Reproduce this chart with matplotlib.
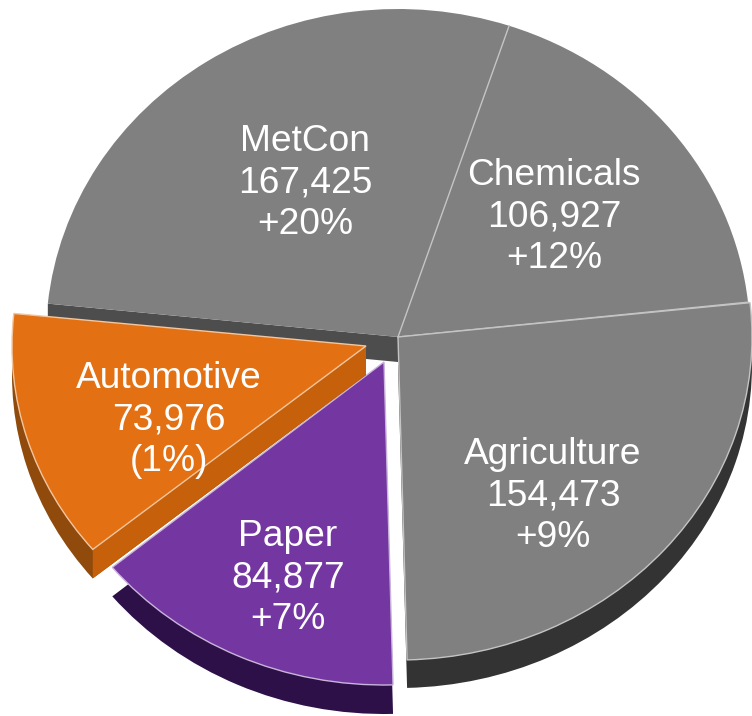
"""Exploded pseudo-3D pie of carloads by commodity group."""
import math

import matplotlib
matplotlib.use("Agg")
import matplotlib.pyplot as plt
from matplotlib.patches import Polygon, Wedge
from matplotlib.transforms import Affine2D

categories = ["Chemicals", "Agriculture", "Paper", "Automotive", "MetCon"]
volumes = [106927, 154473, 84877, 73976, 167425]
changes = ["+12%", "+9%", "+7%", "(1%)", "+20%"]

W, H = 752, 716
# per slice: apex x, apex y (px from top), rx, ry, rim depth, z
GEOM = {
    "Chemicals": (398, 337, 352, 328, 0, 1),
    "Agriculture": (398, 337, 354, 323, 28, 2),
    "Paper": (384, 362, 352, 323, 29, 3),
    "Automotive": (366, 346, 354, 320, 29, 4),
    "MetCon": (398, 337, 352, 328, 0, 1),
}
FACE = {"Chemicals": "#808080", "Agriculture": "#808080", "Paper": "#7436a0",
        "Automotive": "#e37012", "MetCon": "#808080"}
RIM = {"Agriculture": "#333333", "Paper": "#2e1048", "Automotive": "#8f4a0c"}
CUT = {"MetCon": ("#4d4d4d", 25), "Automotive": ("#c6600a", 29)}
EDGE = {"Agriculture": "#c4c4c4", "Paper": "#c9b4da", "Automotive": "#f2c6a0"}
LABEL_AT = {"Chemicals": (554, 217), "Agriculture": (553, 496), "Paper": (288, 578),
            "Automotive": (169, 420), "MetCon": (305, 183)}

plt.rcParams["font.family"] = ["Liberation Sans", "DejaVu Sans"]

fig = plt.figure(figsize=(W / 100, H / 100), dpi=100)
ax = fig.add_axes([0, 0, 1, 1])

wedges, _ = ax.pie(volumes, startangle=71.6, counterclock=False,
                   colors=[FACE[c] for c in categories],
                   wedgeprops=dict(lw=1.0))

for w, name, vol, chg in zip(wedges, categories, volumes, changes):
    cx, cy, rx, ry, depth, z = GEOM[name]
    cy = H - cy
    w.set_transform(Affine2D().scale(rx, ry).translate(cx, cy) + ax.transData)
    w.set_edgecolor(EDGE.get(name, "none"))
    w.set_zorder(z + 0.3)

    if depth:
        rim = Affine2D().scale(rx, ry).translate(cx, cy - depth) + ax.transData
        ax.add_patch(Wedge((0, 0), 1, w.theta1, w.theta2, fc=RIM[name], ec="none",
                           zorder=z, transform=rim))
    if name in CUT:
        color, d = CUT[name]
        a = math.radians(w.theta2)
        px, py = cx + rx * math.cos(a), cy + ry * math.sin(a)
        ax.add_patch(Polygon([(cx, cy), (px, py), (px, py - d), (cx, cy - d)],
                             closed=True, fc=color, ec="none", zorder=z + 0.1))
    # light seams on the back slices, none on the outer arc
    if name == "Chemicals":
        for th in (w.theta1, w.theta2):
            a = math.radians(th)
            ax.plot([cx, cx + rx * math.cos(a)], [cy, cy + ry * math.sin(a)],
                    color="#c4c4c4", lw=1.0, zorder=1.6)
    lx, ly = LABEL_AT[name]
    ax.text(lx, H - ly, f"{name}\n{vol:,}\n{chg}", ha="center", va="center",
            fontsize=26.7, color="white", linespacing=1.24, zorder=10)

ax.set_aspect("auto")
ax.set_xlim(0, W)
ax.set_ylim(0, H)
ax.axis("off")
fig.savefig("out.png", dpi=100, facecolor="white")
